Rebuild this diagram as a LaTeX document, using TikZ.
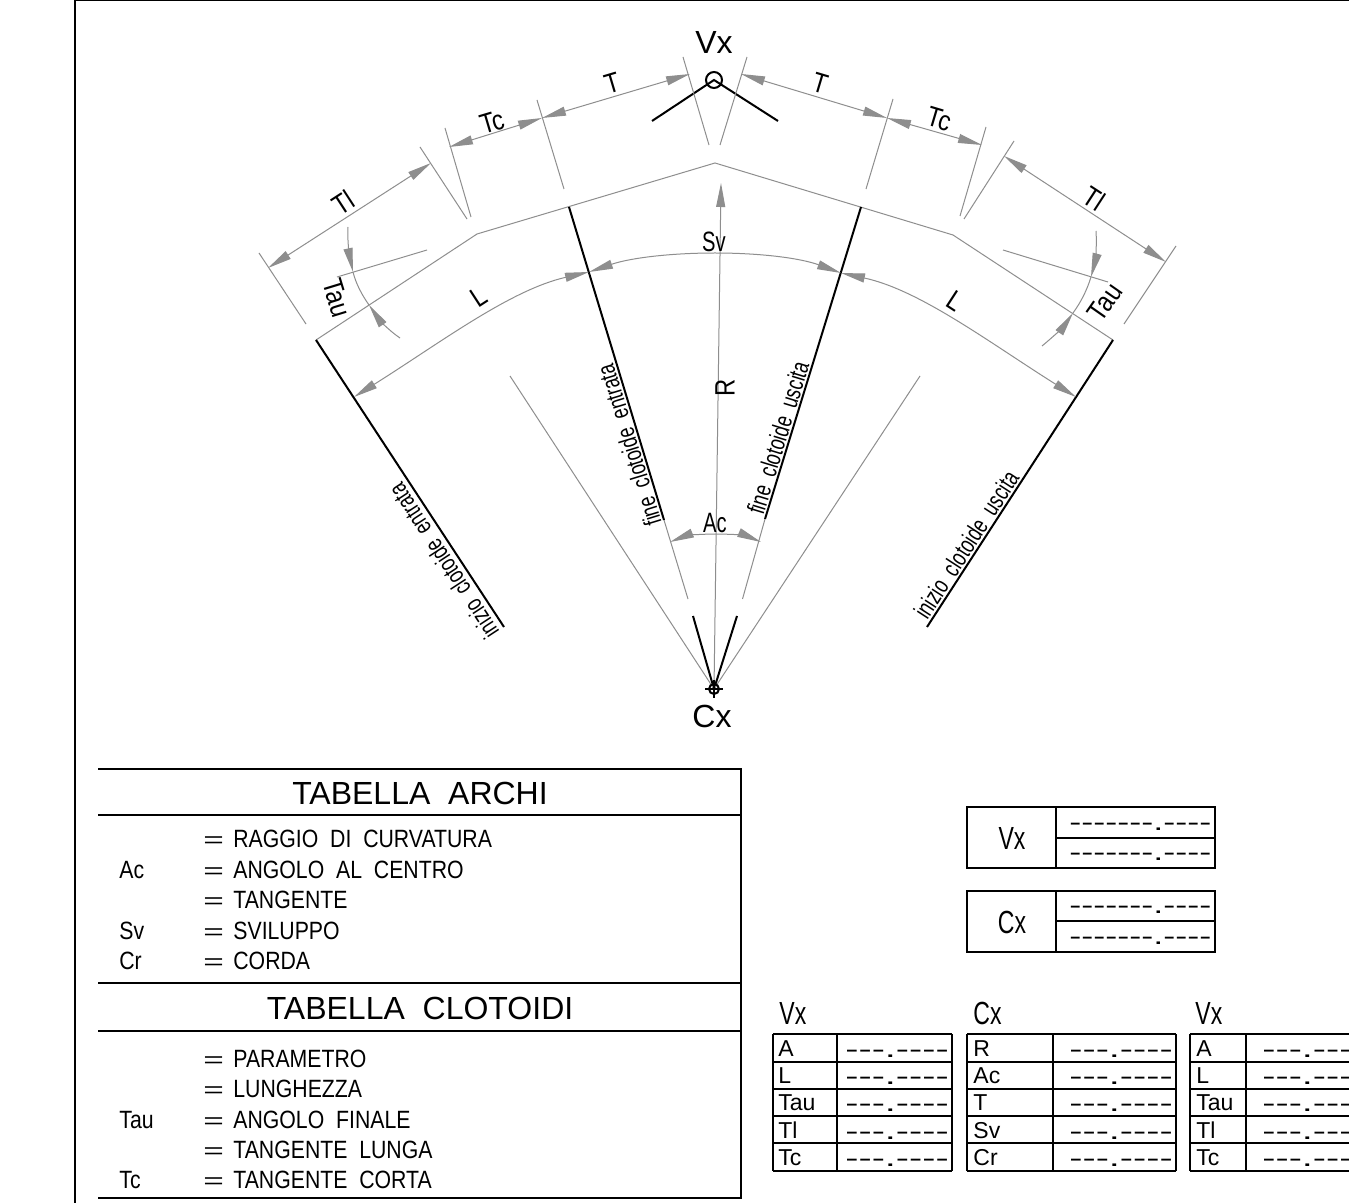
\documentclass[tikz,border=0pt]{standalone}
\usepackage{fontspec}
\setmainfont{Liberation Sans}[FakeStretch=0.85]
\newfontfamily\widefont{Liberation Sans}[FakeStretch=1.0]
\newfontfamily\narrowfont{Liberation Sans}[FakeStretch=0.72]
\newfontfamily\dashfont{Liberation Sans}[FakeStretch=1.5]
\newfontfamily\tabledashfont{Liberation Sans}[FakeStretch=1.65]
\newfontfamily\eqfont{Liberation Sans}[FakeStretch=1.6]
\usetikzlibrary{arrows.meta}
\definecolor{dimgray}{HTML}{8E8E8E}
\tikzset{
  thin gray/.style={draw=dimgray,line width=0.5pt},
  dimline/.style={thin gray,{Triangle[length=12pt,width=4.5pt,fill=dimgray]}-{Triangle[length=12pt,width=4.5pt,fill=dimgray]}},
  endtip/.style={thin gray,-{Triangle[length=12pt,width=4.5pt,fill=dimgray]}},
  heavy/.style={draw=black,line width=1pt},
  lab/.style={font=\fontsize{14}{16}\selectfont,inner sep=0pt},
  nlab/.style={font=\narrowfont\fontsize{14}{16}\selectfont,inner sep=0pt},
  small lab/.style={font=\widefont\fontsize{11.5}{13}\selectfont,inner sep=0pt},
  big lab/.style={font=\widefont\fontsize{16}{18}\selectfont,inner sep=0pt},
  box lab/.style={font=\narrowfont\fontsize{16}{18}\selectfont,inner sep=0pt},
  along/.style={font=\narrowfont\fontsize{12.5}{14}\selectfont,inner sep=1pt,anchor=south},
  row/.style={font=\fontsize{12.5}{14}\selectfont,inner sep=0pt,anchor=base west},
  eqrow/.style={font=\eqfont\fontsize{11}{13}\selectfont,inner sep=0pt,anchor=base west},
  dashes/.style={font=\dashfont\fontsize{12}{14}\selectfont,inner sep=0pt,anchor=base west},
  tdashes/.style={font=\tabledashfont\fontsize{12}{14}\selectfont,inner sep=0pt,anchor=base west},
}
\newcommand{\longdash}{-{}-{}-{}-{}-{}-{}-.-{}-{}-{}-}
\newcommand{\shortdash}{-{}-{}-.-{}-{}-{}-}
\begin{document}
\begin{tikzpicture}[x=0.5pt,y=-0.5pt]
\clip (0,0) rectangle (1349,1203);
\fill[white] (0,0) rectangle (1349,1203);
% frame
\draw[heavy] (75,1203) -- (75,0.5) -- (1349,0.5);
% centreline polygon
\draw[thin gray] (316,340) -- (477,234) -- (715,163) -- (953,235) -- (1113,340);
% heavy radial lines
\draw[heavy] (316,340) -- (504,627);
\draw[heavy] (569,207) -- (664,520);
\draw[heavy] (861,207) -- (765,519);
\draw[heavy] (1113,340) -- (927,627);
\draw[heavy] (693,616) -- (714,689) -- (737,616);
\draw[heavy] (652,121) -- (714,80) -- (778,121);
% thin radial lines
\draw[thin gray] (510,376) -- (714,689) -- (920,376);
\draw[thin gray] (664,520) -- (688,599);
\draw[thin gray] (765,519) -- (742.5,599);
\draw[endtip] (714,689) -- (721,183);
% extension lines
\draw[thin gray] (683,57) -- (709,145);
\draw[thin gray] (747,57) -- (720,145);
\draw[thin gray] (537,100) -- (564,189);
\draw[thin gray] (893,99) -- (866,189);
\draw[thin gray] (445,128) -- (471,217);
\draw[thin gray] (986,127) -- (960,216);
\draw[thin gray] (420,147) -- (467,219);
\draw[thin gray] (1014,141) -- (964,219);
\draw[thin gray] (259,253) -- (306,324);
\draw[thin gray] (1176,246) -- (1124,324);
% dimension lines
\draw[dimline] (542,118) -- (690,74);
\draw[dimline] (741,74) -- (887,118);
\draw[dimline] (449,147) -- (542,118);
\draw[dimline] (887,118) -- (982,145);
\draw[dimline] (268,268) -- (431,163);
\draw[dimline] (1004,156) -- (1166,262);
% tau
\draw[thin gray] (337,277) -- (427,250);
\draw[thin gray] (1003,250) -- (1108,282);
\draw[endtip] (348,227) .. controls (347,240) and (350,258) .. (353,272);
\draw[thin gray] (353,272) .. controls (356,284) and (362,295) .. (369,305);
\draw[endtip] (400,338) .. controls (388,330) and (378,318) .. (369,305);
\draw[endtip] (1096,231) .. controls (1097,245) and (1095,262) .. (1091,277);
\draw[thin gray] (1091,277) .. controls (1087,290) and (1081,302) .. (1073,313);
\draw[endtip] (1042,346) .. controls (1053,337) and (1064,326) .. (1073,313);
% arcs
\draw[dimline] (354,397) .. controls (440,343) and (510,290) .. (589,272);
\draw[dimline] (589,272) .. controls (630,258) and (670,253) .. (715,253) .. controls (760,253) and (800,258) .. (841,273);
\draw[dimline] (841,273) .. controls (920,290) and (990,343) .. (1076,397);
\draw[dimline] (670,542) .. controls (685,536) and (700,534) .. (716,534) .. controls (732,534) and (747,536) .. (761,542);
% point markers
\draw[heavy] (714,80) circle (8);
\draw[heavy] (714,689) circle (5);
\draw[heavy] (705,689) -- (723,689);
\draw[heavy] (714,680) -- (714,698);
\node[big lab] (vxtop) at (714,42) {Vx};
\node[big lab] (cxbottom) at (712,716) {Cx};
% dimension labels
\node[lab,rotate=16.6] (t1) at (612,83) {T};
\node[lab,rotate=-16.6] (t2) at (820,83) {T};
\node[lab,rotate=16.6] (tc1) at (492,122) {Tc};
\node[lab,rotate=-16.6] (tc2) at (939,119) {Tc};
\node[lab,rotate=33] (tl1) at (343,203) {Tl};
\node[lab,rotate=-33] (tl2) at (1094,198) {Tl};
\node[lab,rotate=-73] (tau1) at (337,298) {Tau};
\node[lab,rotate=55] (tau2) at (1105,302) {Tau};
\node[lab,rotate=33] (l1) at (479,297) {L};
\node[lab,rotate=-33] (l2) at (955,301) {L};
\node[nlab] (sv) at (714,242) {Sv};
\node[lab,rotate=90] (rr) at (725,388) {R};
\node[nlab] (ac) at (715,523) {Ac};
% labels along lines
\node[along,rotate=107] (a1) at (640,442) {fine\ \ clotoide\ \ entrata};
\node[along,rotate=73] (a2) at (789,441) {fine\ \ clotoide\ \ uscita};
\node[along,rotate=57] (a3) at (976,551) {inizio\ \ clotoide\ \ uscita};
\node[along,rotate=123.2] (a4) at (453,555) {inizio\ \ clotoide\ \ entrata};
% main table
\draw[heavy] (98,769) -- (741,769) -- (741,1198) -- (98,1198);
\draw[heavy] (98,815) -- (741,815);
\draw[heavy] (98,983) -- (741,983);
\draw[heavy] (98,1031) -- (741,1031);
\node[big lab] (title1) at (420,793) {TABELLA\ \ ARCHI};
\node[big lab] (title2) at (420,1008) {TABELLA\ \ CLOTOIDI};
\foreach \n/\yy/\lb/\tx in {
  r1/847/{}/{RAGGIO\ \ DI\ \ CURVATURA},
  r2/878/Ac/{ANGOLO\ \ AL\ \ CENTRO},
  r3/908/{}/{TANGENTE},
  r4/939/Sv/{SVILUPPO},
  r5/969/Cr/{CORDA},
  r6/1067/{}/{PARAMETRO},
  r7/1097/{}/{LUNGHEZZA},
  r8/1128/Tau/{ANGOLO\ \ FINALE},
  r9/1158/{}/{TANGENTE\ \ LUNGA},
  r10/1188/Tc/{TANGENTE\ \ CORTA}}{
  \node[row] (lb\n) at (119,\yy) {\lb};
  \node[eqrow] (eq\n) at (203,\yy) {=};
  \node[row] (tx\n) at (233,\yy) {\tx};
}
% coordinate boxes
\foreach \n/\top/\mid/\bot/\lb in {vb/807/838/868/Vx,cb/891/921/952/Cx}{
  \draw[heavy] (967,\top) rectangle (1215,\bot);
  \draw[heavy] (1056,\top) -- (1056,\bot);
  \draw[heavy] (1056,\mid) -- (1215,\mid);
  \node[box lab] (\n) at (1012,{(\top+\bot)/2+1}) {\lb};
  \node[dashes] (\n a) at (1069,{\mid-8}) {\longdash};
  \node[dashes] (\n b) at (1069,{\bot-8}) {\longdash};
}
% small tables
\foreach \y in {1034,1062,1089,1116,1143,1171}{
  \draw[heavy] (773,\y) -- (952,\y);
  \draw[heavy] (967,\y) -- (1176,\y);
  \draw[heavy] (1190,\y) -- (1349,\y);
}
\draw[heavy] (773,1034) -- (773,1171);
\draw[heavy] (837,1034) -- (837,1171);
\draw[heavy] (952,1034) -- (952,1171);
\draw[heavy] (967,1034) -- (967,1171);
\draw[heavy] (1052.5,1034) -- (1052.5,1171);
\draw[heavy] (1176,1034) -- (1176,1171);
\draw[heavy] (1190,1034) -- (1190,1171);
\draw[heavy] (1246,1034) -- (1246,1171);
\node[box lab,anchor=west] (h1) at (779,1013) {Vx};
\node[box lab,anchor=west] (h2) at (973,1013) {Cx};
\node[box lab,anchor=west] (h3) at (1195,1013) {Vx};
\foreach \i/\yy/\a/\b in {1/1056/A/R,2/1083/L/Ac,3/1110/Tau/T,4/1138/Tl/Sv,5/1165/Tc/Cr}{
  \node[small lab,anchor=base west] (ta\i) at (778,\yy) {\a};
  \node[small lab,anchor=base west] (tb\i) at (973,\yy) {\b};
  \node[small lab,anchor=base west] (tc\i) at (1196,\yy) {\a};
  \node[tdashes] (da\i) at (845,{\yy+1.5}) {\shortdash};
  \node[tdashes] (db\i) at (1069,{\yy+1.5}) {\shortdash};
  \node[tdashes] (dc\i) at (1262,{\yy+1.5}) {\shortdash};
}
\end{tikzpicture}
\end{document}
